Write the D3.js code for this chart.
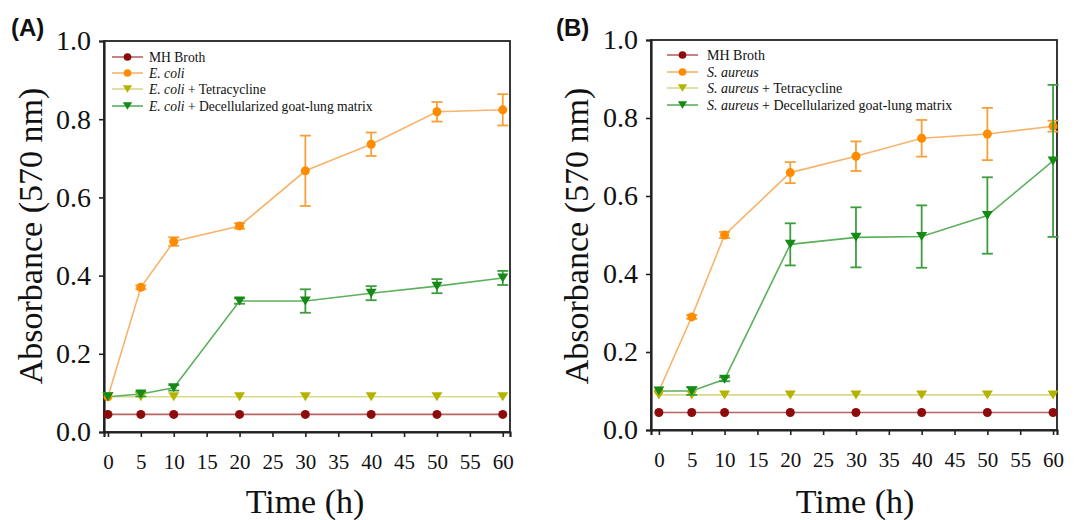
<!DOCTYPE html>
<html><head><meta charset="utf-8">
<script src="https://cdn.jsdelivr.net/npm/d3@7"></script>
<style>
body{margin:0;background:#fff;}
svg{display:block;}
</style></head>
<body><svg id="c" width="1090" height="520"></svg>
<script>
const SERIF = "'Liberation Serif','Times New Roman',serif";
const times = [0, 5, 10, 20, 30, 40, 50, 60];
const xTicks = [0, 5, 10, 15, 20, 25, 30, 35, 40, 45, 50, 55, 60];
const yTicks = [0, 0.2, 0.4, 0.6, 0.8, 1.0];

// Panel A (E. coli)
const mhA = [0.045, 0.045, 0.045, 0.045, 0.045, 0.045, 0.045, 0.045];
const ecoli = [0.09, 0.37, 0.487, 0.527, 0.668, 0.736, 0.819, 0.824];
const ecoliErr = [0, 0.005, 0.011, 0.007, 0.09, 0.03, 0.025, 0.04];
const ecoliTet = [0.09, 0.09, 0.09, 0.09, 0.09, 0.09, 0.09, 0.09];
const ecoliDec = [0.09, 0.097, 0.113, 0.335, 0.335, 0.355, 0.373, 0.394];
const ecoliDecErr = [0, 0.006, 0.007, 0.007, 0.03, 0.018, 0.018, 0.018];

// Panel B (S. aureus)
const mhB = [0.045, 0.045, 0.045, 0.045, 0.045, 0.045, 0.045, 0.045];
const saureus = [0.1, 0.29, 0.5, 0.66, 0.702, 0.748, 0.759, 0.779];
const saureusErr = [0, 0.005, 0.008, 0.027, 0.038, 0.047, 0.067, 0.014];
const saureusTet = [0.09, 0.09, 0.09, 0.09, 0.09, 0.09, 0.09, 0.09];
const saureusDec = [0.1, 0.1, 0.13, 0.476, 0.494, 0.496, 0.55, 0.69];
const saureusDecErr = [0, 0.01, 0.005, 0.054, 0.077, 0.08, 0.098, 0.195];

const legendA = [["MH Broth", null], ["", "E. coli"], [" + Tetracycline", "E. coli"], [" + Decellularized goat-lung matrix", "E. coli"]];
const legendB = [["MH Broth", null], ["", "S. aureus"], [" + Tetracycline", "S. aureus"], [" + Decellularized goat-lung matrix", "S. aureus"]];

const styles = [
  {marker:"circle", fill:"#8E0B0B", line:"#B86464", err:"#8E0B0B"},
  {marker:"circle", fill:"#FF8C00", line:"#F6B46C", err:"#F7A03A"},
  {marker:"tri", fill:"#B4B400", line:"#D9D98E", err:"#B4B400"},
  {marker:"tri", fill:"#168A16", line:"#5DB05D", err:"#3D9E3D"}
];

const svg = d3.select("#c");

function panel(cfg){
  const x = d3.scaleLinear().domain(cfg.xd).range([cfg.l, cfg.r]);
  const y = d3.scaleLinear().domain([0, 1]).range([cfg.b, cfg.t]);
  const g = svg.append("g");

  g.append("rect").attr("x", cfg.l).attr("y", cfg.t).attr("width", cfg.r - cfg.l).attr("height", cfg.b - cfg.t)
    .attr("fill", "none").attr("stroke", "#222").attr("stroke-width", 1.8);

  const ya = g.append("g").attr("transform", `translate(${cfg.l},0)`)
    .call(d3.axisLeft(y).tickValues(yTicks).tickFormat(d3.format(".1f")).tickSize(5).tickPadding(8));
  ya.attr("font-family", null);
  ya.select(".domain").attr("stroke", "#222").attr("stroke-width", 2.2);
  ya.selectAll(".tick line").attr("stroke", "#222").attr("stroke-width", 1.6);
  ya.selectAll("text").style("font-family", SERIF).style("font-size", "28px").attr("fill", "#111");

  const xa = g.append("g").attr("transform", `translate(0,${cfg.b})`)
    .call(d3.axisBottom(x).tickValues(xTicks).tickSize(5).tickPadding(17));
  xa.attr("font-family", null);
  xa.select(".domain").attr("stroke", "#222").attr("stroke-width", 2.2);
  xa.selectAll(".tick line").attr("stroke", "#222").attr("stroke-width", 1.6);
  xa.selectAll("text").style("font-family", SERIF).style("font-size", "21px").attr("fill", "#111");

  g.append("text").attr("x", cfg.titleX).attr("y", 513).attr("text-anchor", "middle")
    .style("font-family", SERIF).style("font-size", "34px").attr("fill", "#111").text("Time (h)");
  g.append("text").attr("transform", `translate(${cfg.ytX},236) rotate(-90)`).attr("text-anchor", "middle")
    .style("font-family", SERIF).style("font-size", "34px").attr("fill", "#111").text("Absorbance (570 nm)");
  g.append("text").attr("x", cfg.lblX).attr("y", 36)
    .style("font-family", "'Liberation Sans',Arial,sans-serif").style("font-weight", "bold").style("font-size", "24px")
    .attr("fill", "#111").text(cfg.label);

  const line = d3.line().x((d, i) => x(times[i])).y(d => y(d));
  const sets = cfg.series;

  sets.forEach((s, k) => {
    g.append("path").datum(s.v).attr("d", line).attr("fill", "none")
      .attr("stroke", styles[k].line).attr("stroke-width", 1.6);
  });
  sets.forEach((s, k) => {
    const st = styles[k];
    if (s.e) {
      s.v.forEach((v, i) => {
        const e = s.e[i];
        if (!e) return;
        const cx = x(times[i]);
        const eg = g.append("g").attr("stroke", st.err).attr("stroke-width", 1.8);
        eg.append("line").attr("x1", cx).attr("x2", cx).attr("y1", y(v - e)).attr("y2", y(v + e));
        eg.append("line").attr("x1", cx - 5.5).attr("x2", cx + 5.5).attr("y1", y(v - e)).attr("y2", y(v - e));
        eg.append("line").attr("x1", cx - 5.5).attr("x2", cx + 5.5).attr("y1", y(v + e)).attr("y2", y(v + e));
      });
    }
    s.v.forEach((v, i) => drawMarker(g, st, x(times[i]), y(v)));
  });

  cfg.legend.forEach((item, k) => {
    const ly = cfg.legY[k];
    const st = styles[k];
    g.append("line").attr("x1", cfg.legX1).attr("x2", cfg.legX2).attr("y1", ly).attr("y2", ly)
      .attr("stroke", st.line).attr("stroke-width", 1.6);
    drawMarker(g, st, (cfg.legX1 + cfg.legX2) / 2, ly, 0.85);
    const t = g.append("text").attr("x", cfg.legText).attr("y", ly + 4.5)
      .style("font-family", SERIF).style("font-size", cfg.legFont).attr("fill", "#111");
    if (item[1]) t.append("tspan").style("font-style", "italic").text(item[1]);
    t.append("tspan").text(item[0]);
  });
}

function drawMarker(g, st, cx, cy, sc){
  sc = sc || 1;
  if (st.marker === "circle") {
    g.append("circle").attr("cx", cx).attr("cy", cy).attr("r", 4.5 * sc).attr("fill", st.fill);
  } else {
    const w = 5.5 * sc, h = 4.5 * sc;
    g.append("path").attr("d", `M${cx - w},${cy - h}L${cx + w},${cy - h}L${cx},${cy + h}Z`).attr("fill", st.fill);
  }
}

panel({
  l: 104, r: 510, t: 41, b: 432, xd: [-0.6, 61.1],
  titleX: 305, ytX: 42, lblX: 11, label: "(A)",
  series: [{v: mhA}, {v: ecoli, e: ecoliErr}, {v: ecoliTet}, {v: ecoliDec, e: ecoliDecErr}],
  legend: legendA, legY: [57, 73, 89, 106], legX1: 112, legX2: 143, legText: 149, legFont: "13.6px"
});
panel({
  l: 651, r: 1057, t: 40, b: 430, xd: [-1.2, 60.6],
  titleX: 855, ytX: 588, lblX: 556, label: "(B)",
  series: [{v: mhB}, {v: saureus, e: saureusErr}, {v: saureusTet}, {v: saureusDec, e: saureusDecErr}],
  legend: legendB, legY: [55, 72, 88, 105], legX1: 667, legX2: 698, legText: 707, legFont: "14px"
});
</script></body></html>
